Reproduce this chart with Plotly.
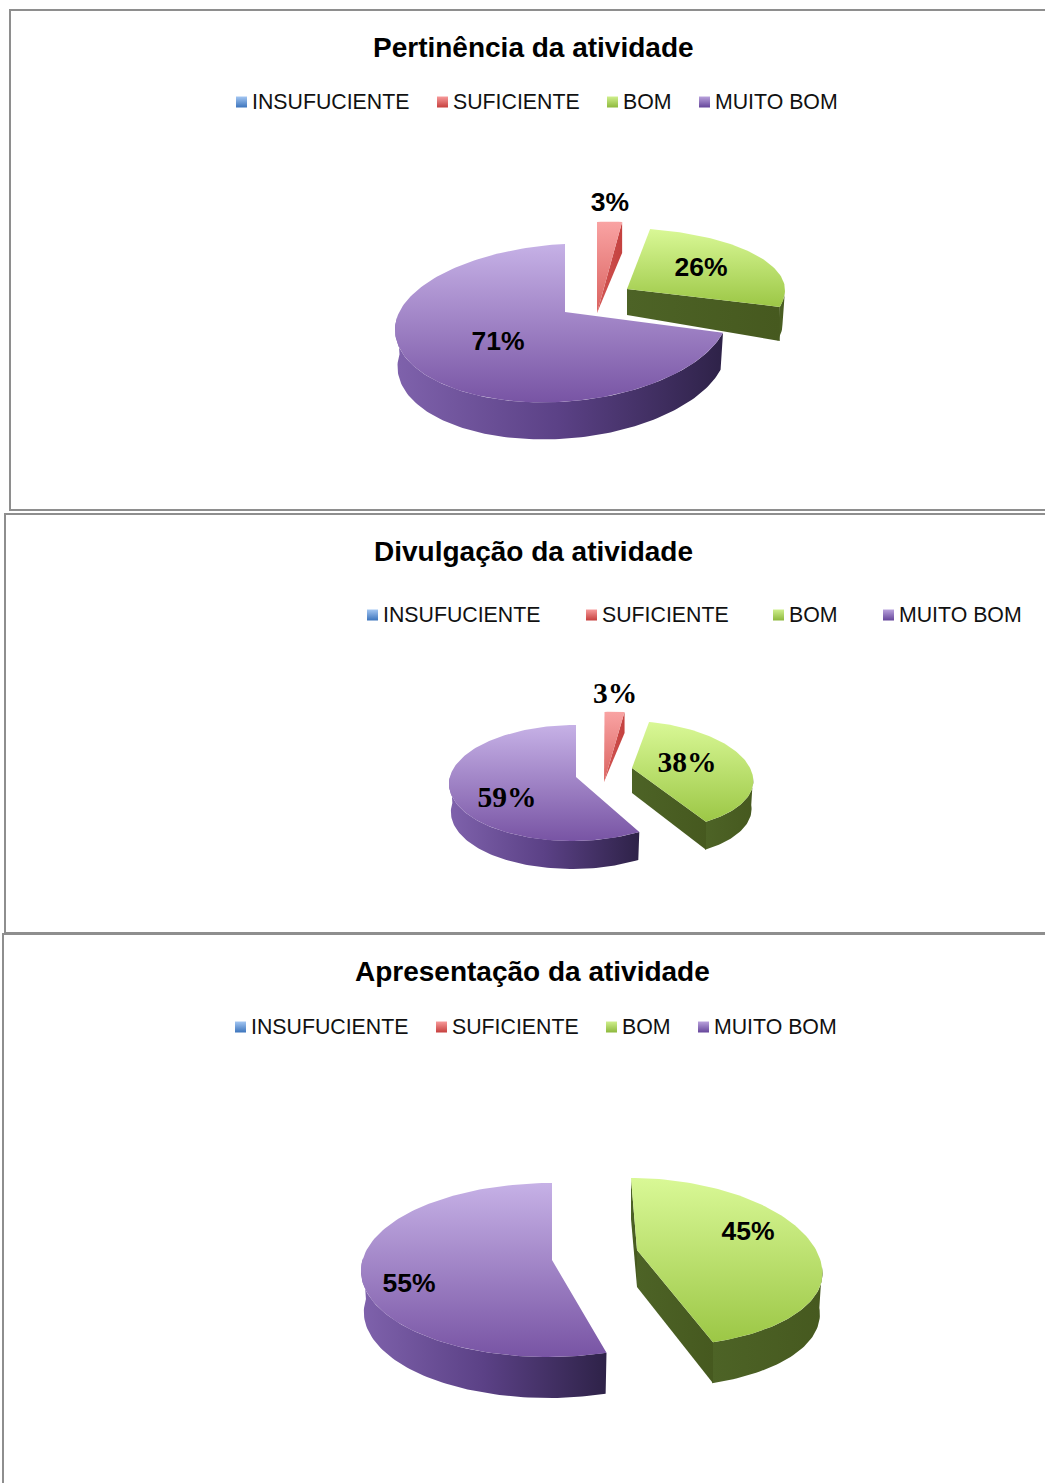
import math
import plotly.graph_objects as go

# ---- data ----
categories = ["INSUFUCIENTE", "SUFICIENTE", "BOM", "MUITO BOM"]
titles = ["Pertinência da atividade", "Divulgação da atividade", "Apresentação da atividade"]
pertinencia = [0, 3, 26, 71]
divulgacao = [0, 3, 38, 59]
apresentacao = [0, 0, 45, 55]

# ---- styles ----
TOP = {1: ("#F9A3A3", "#DA625F"), 2: ("#D9F896", "#9CC746"), 3: ("#C6B1E6", "#7854A4")}
WALL = {1: ["#D25654", "#C4413F"], 2: ["#4D6326", "#46591F"], 3: ["#7F62AC", "#5B4186", "#2E2248"]}
SWATCH = [("#A3C6F2", "#3C74BC"), ("#F79A9A", "#C63F3D"), ("#CFEF8C", "#8DB83C"), ("#B9A2DC", "#65459A")]

# Projection of each exploded slice: apex, rim ellipse, skew, tilt, wall depth, apex wall depth
GEOM = [
    {1: dict(ax=597, ay=313, cx=597, cy=300, rx=134, rt=78, rb=78, sk=0, ti=-8, d=31, ad=0),
     2: dict(ax=627, ay=289, cx=619, cy=290, rx=166, rt=62, rb=68, sk=0, ti=0, d=34, ad=26),
     3: dict(ax=565, ay=312, cx=562, cy=320, rx=167, rt=76, rb=82, sk=3, ti=-8, d=37, ad=30)},
    {1: dict(ax=604, ay=782, cx=604.5, cy=770, rx=107, rt=58, rb=58, sk=0, ti=-6, d=21, ad=0),
     2: dict(ax=632, ay=768, cx=635.7, cy=777, rx=117.3, rt=56, rb=53, sk=-8.8, ti=0, d=28, ad=25),
     3: dict(ax=576, ay=777, cx=574, cy=783, rx=125, rt=58, rb=58, sk=2, ti=0, d=28, ad=25)},
    {2: dict(ax=637, ay=1250, cx=645, cy=1267, rx=177, rt=89, rb=79, sk=-14, ti=0, d=41, ad=37),
     3: dict(ax=552, ay=1260, cx=550, cy=1270, rx=189, rt=87, rb=87, sk=2, ti=0, d=41, ad=37)},
]
LEGEND_X = [[241.5, 442.5, 612.5, 704.5], [372.5, 591.5, 778.5, 888.5], [240.5, 441.5, 611.5, 703.5]]
LEGEND_Y = [102, 615, 1027]
TITLE_Y = [47, 551, 971]
TITLE_X = [533, 533, 532]
LABEL_POS = [
    {1: (610, 204), 2: (701, 269), 3: (498, 343)},
    {1: (615, 696), 2: (687, 765), 3: (507, 800)},
    {2: (748, 1233), 3: (409, 1285)},
]
LABEL_FONT = [("Liberation Sans", 26.5), ("Liberation Serif", 29.5), ("Liberation Sans", 26.5)]
FRAMES = [(10, 10, 510), (5, 514, 933), (3, 934, 1500)]


def rim(g, th, shrink=1.0, dy=0.0):
    c, s = math.cos(th), math.sin(th)
    r = g["rt"] if c > 0 else g["rb"]
    return (g["cx"] + g["rx"] * shrink * s + g["sk"] * c,
            g["cy"] - r * c + g["ti"] * s + dy)


def arc(g, a, b, shrink=1.0, dy=0.0):
    n = max(2, int(abs(b - a) / math.radians(1.5)))
    return [rim(g, a + (b - a) * i / n, shrink, dy) for i in range(n + 1)]


def poly(pts, colors, kind):
    xs = [p[0] for p in pts] + [pts[0][0]]
    ys = [p[1] for p in pts] + [pts[0][1]]
    vals = xs if kind == "horizontal" else ys
    scale = [[i / (len(colors) - 1), c] for i, c in enumerate(colors)]
    return go.Scatter(x=xs, y=ys, mode="lines", line=dict(width=0), fill="toself",
                      fillcolor=colors[0], hoverinfo="skip", showlegend=False,
                      fillgradient=dict(type=kind, colorscale=scale, start=min(vals), stop=max(vals)))


fig = go.Figure()
charts = [pertinencia, divulgacao, apresentacao]
for k, values in enumerate(charts):
    total = sum(values)
    starts, acc = {}, 0
    for i, v in enumerate(values):
        starts[i] = (acc / total * 2 * math.pi, (acc + v) / total * 2 * math.pi)
        acc += v
    for i in (1, 2, 3):
        if values[i] == 0:
            continue
        a, b = starts[i]
        g = GEOM[k][i]
        apex = (g["ax"], g["ay"])
        # curved outer wall on the front half
        lo, hi = max(a, math.pi / 2), min(b, math.radians(278))
        if hi > lo:
            top_edge = arc(g, lo, hi)
            bottom_edge = arc(g, lo, hi, 0.985, g["d"])
            fig.add_trace(poly(top_edge + bottom_edge[::-1], WALL[i], "horizontal"))
        # cut faces that look toward the viewer
        if b < math.pi:
            e = rim(g, b)
            fig.add_trace(poly([apex, e, (e[0], e[1] + g["d"]), (apex[0], apex[1] + g["ad"])],
                               WALL[i], "horizontal"))
        s0 = rim(g, a)
        if s0[0] < apex[0] - 1:
            fig.add_trace(poly([apex, s0, (s0[0], s0[1] + g["d"]), (apex[0], apex[1] + g["ad"])],
                               WALL[i], "horizontal"))
        # top face
        fig.add_trace(poly([apex] + arc(g, a, b), TOP[i], "vertical"))

    # data labels
    for i, v in enumerate(values):
        if v == 0:
            continue
        x, y = LABEL_POS[k][i]
        fig.add_trace(go.Scatter(x=[x], y=[y], mode="text", text=[f"{v}%"], textposition="middle center",
                                 textfont=dict(family=LABEL_FONT[k][0], size=LABEL_FONT[k][1],
                                               color="#000000", weight="bold"),
                                 hoverinfo="skip", showlegend=False))
    # legend row
    for i, cat in enumerate(categories):
        fig.add_trace(go.Scatter(x=[LEGEND_X[k][i]], y=[LEGEND_Y[k]], mode="markers", name=cat,
                                 marker=dict(symbol="square", size=11, color=SWATCH[i][0],
                                             gradient=dict(type="vertical", color=SWATCH[i][1])),
                                 hoverinfo="skip", showlegend=False))
        fig.add_trace(go.Scatter(x=[LEGEND_X[k][i] + 10.5], y=[LEGEND_Y[k] + 2], mode="text", text=[cat],
                                 textposition="middle right",
                                 textfont=dict(family="Liberation Sans", size=21.3, color="#111111"),
                                 hoverinfo="skip", showlegend=False))
    fig.add_annotation(x=TITLE_X[k], y=TITLE_Y[k], text=f"<b>{titles[k]}</b>", showarrow=False,
                       xanchor="center", yanchor="middle",
                       font=dict(family="Liberation Sans", size=28, color="#000000"))
    x0, y0, y1 = FRAMES[k]
    fig.add_shape(type="rect", x0=x0, x1=1100, y0=y0, y1=y1,
                  line=dict(color="#8E8E8E", width=2), layer="below")

fig.update_xaxes(range=[0, 1045], visible=False, fixedrange=True)
fig.update_yaxes(range=[1483, 0], visible=False, fixedrange=True)
fig.update_layout(width=1045, height=1483, margin=dict(l=0, r=0, t=0, b=0),
                  paper_bgcolor="#FFFFFF", plot_bgcolor="#FFFFFF", showlegend=False)
fig.write_html("out.html", config={"displayModeBar": False},
               post_script="document.body.style.margin='0';document.documentElement.style.overflow='hidden';")
